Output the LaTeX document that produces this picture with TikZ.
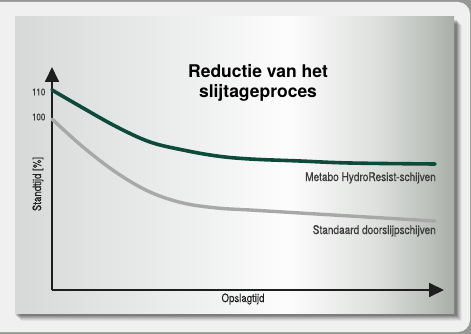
\documentclass[tikz,border=0pt]{standalone}
\usepackage{fontspec}
\setmainfont{TeX Gyre Heros}
\newfontfamily\condfont[FakeStretch=0.84,FakeBold=0.35]{TeX Gyre Heros}
\usetikzlibrary{arrows.meta}
\definecolor{bggray}{RGB}{150,152,150}
\definecolor{outerfill}{RGB}{240,240,240}
\definecolor{metagreen}{RGB}{12,74,58}
\definecolor{stdgray}{RGB}{168,168,168}
\definecolor{axisblack}{RGB}{30,30,30}
\definecolor{labelgray}{RGB}{58,58,58}
\pgfdeclarehorizontalshading{panelshade}{100bp}{%
  rgb(0bp)=(0.84,0.85,0.845);
  rgb(25bp)=(0.84,0.85,0.845);
  rgb(45bp)=(0.93,0.94,0.935);
  rgb(56bp)=(0.99,0.99,0.99);
  rgb(66bp)=(0.87,0.88,0.87);
  rgb(72bp)=(0.74,0.76,0.74);
  rgb(75bp)=(0.66,0.68,0.66);
  rgb(100bp)=(0.66,0.68,0.66)}
\tikzset{
  axisline/.style={draw=axisblack,line width=1.8pt,-{Triangle[length=15pt,width=14pt]}},
  curvegreen/.style={draw=metagreen,line width=3.6pt,line cap=round},
  curvegray/.style={draw=stdgray,line width=3.4pt,line cap=round},
  ticklabel/.style={font=\condfont\fontsize{9.5}{9.5}\selectfont,text=labelgray,inner sep=0pt},
  serieslabel/.style={font=\condfont\fontsize{12}{12}\selectfont,text=labelgray,inner sep=0pt},
  axislabel/.style={font=\condfont\fontsize{11.5}{11.5}\selectfont,text=axisblack,inner sep=0pt},
  titlelabel/.style={font=\bfseries\fontsize{17.5}{20}\selectfont,text=black,align=center,inner sep=0pt}
}
\begin{document}
\begin{tikzpicture}[x=1pt,y=-1pt]
\useasboundingbox (0,0) rectangle (471,334);
% background
\fill[bggray] (0,0) rectangle (471,334);
\fill[outerfill,rounded corners=12pt] (-20,2) rectangle (470,332);
% shadow of panel
\foreach \o/\a in {8/0.05,7/0.07,6/0.09,5/0.11,4/0.13,3/0.15}{
  \fill[black,opacity=\a] (15+\o-2,17+\o) rectangle (454+\o,313+\o);
}
% panel
\shade[shading=panelshade] (15,17) rectangle (454,313);
% axes
\coordinate (origin) at (52,290);
\coordinate (ytip) at (52,67);
\coordinate (xtip) at (444,290);
\draw[axisline] (origin) -- (ytip);
\draw[axisline] (origin) -- (xtip);
% curves
\draw[curvegray] plot[smooth,tension=0.6] coordinates {(52,119) (83,147) (117,173) (150,192) (183,203) (217,208) (250,210) (300,213) (350,216) (435,221)};
\draw[curvegreen] plot[smooth,tension=0.6] coordinates {(52,90) (83,108) (117,127) (150,142) (183,150) (217,156) (250,159) (300,161) (350,163) (435,164)};
% labels
\node[ticklabel,anchor=east] (t110) at (45.5,92) {110};
\node[ticklabel,anchor=east] (t100) at (45.5,117) {100};
\node[axislabel,rotate=90] (ylab) at (38,184) {Standtijd [\%]};
\node[axislabel] (xlab) at (243,299) {Opslagtijd};
\node[serieslabel,anchor=base east] (lgreen) at (436,181) {Metabo HydroResist-schijven};
\node[serieslabel,anchor=base east] (lgray) at (436,234) {Standaard doorslijpschijven};
\node[titlelabel] (title) at (258,83) {Reductie van het\\slijtageproces};
\end{tikzpicture}
\end{document}
